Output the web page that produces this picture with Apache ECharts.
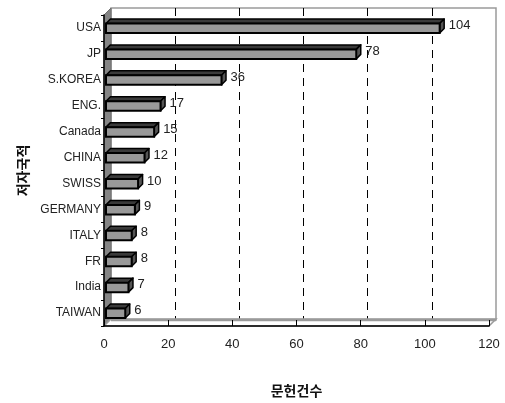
<!DOCTYPE html>
<html>
<head>
<meta charset="utf-8">
<script src="https://cdn.jsdelivr.net/npm/echarts@6/dist/echarts.min.js"></script>
<style>
  html, body { margin: 0; padding: 0; background: #fff; }
  #chart { width: 505px; height: 403px; }
</style>
</head>
<body>
<div id="chart"></div>
<script>
// Publications by author nationality
const categories = ['USA', 'JP', 'S.KOREA', 'ENG.', 'Canada', 'CHINA', 'SWISS', 'GERMANY', 'ITALY', 'FR', 'India', 'TAIWAN'];
const counts = [104, 78, 36, 17, 15, 12, 10, 9, 8, 8, 7, 6];
const axisMin = 0;
const axisMax = 120;
const axisStep = 20;
const xTitle = '문헌건수';
const yTitle = '저자국적';

const LATIN = '"Liberation Sans", Arial, sans-serif';
const KOREAN = '"Noto Sans CJK KR", sans-serif';
const DEPTH = 7;       // wall/floor perspective offset
const BAR_DEPTH = 4.5; // bar top/side offset

const chart = echarts.init(document.getElementById('chart'), null, { renderer: 'canvas' });

// left wall and floor of the 3D frame
function renderFrame(params, api) {
  const cs = params.coordSys;
  const L = cs.x, T = cs.y, R = cs.x + cs.width, B = cs.y + cs.height;
  return {
    type: 'group',
    children: [
      {
        type: 'polygon',
        shape: { points: [[L, T], [L + DEPTH, T - DEPTH], [L + DEPTH, B - DEPTH], [L, B]] },
        style: { fill: '#858585', stroke: '#6f6f6f', lineWidth: 1 }
      },
      {
        type: 'polygon',
        shape: { points: [[L, B], [R, B], [R + DEPTH, B - DEPTH], [L + DEPTH, B - DEPTH]] },
        style: { fill: '#ffffff', stroke: '#9a9a9a', lineWidth: 1.5 }
      },
      {
        type: 'line',
        shape: { x1: L + DEPTH, y1: B - DEPTH + 1, x2: R + DEPTH, y2: B - DEPTH + 1 },
        style: { stroke: '#9a9a9a', lineWidth: 2.5 }
      }
    ]
  };
}

// one 3D bar with its value label
function renderBar(params, api) {
  const v = api.value(0);
  const i = api.value(1);
  const base = api.coord([0, i]);
  const end = api.coord([v, i]);
  const cy = base[1];
  const xL = base[0] + 2;
  const xR = end[0] + 2;
  const yT = cy - 4.5;
  const yB = cy + 5;
  const d = BAR_DEPTH;
  return {
    type: 'group',
    children: [
      {
        type: 'polygon',
        shape: { points: [[xL, yT], [xR, yT], [xR + d, yT - d], [xL + d, yT - d]] },
        style: { fill: '#3a3a3a', stroke: '#000', lineWidth: 1.5, lineJoin: 'round' }
      },
      {
        type: 'polygon',
        shape: { points: [[xR, yT], [xR + d, yT - d], [xR + d, yB - d], [xR, yB]] },
        style: { fill: '#555', stroke: '#000', lineWidth: 1.5, lineJoin: 'round' }
      },
      {
        type: 'rect',
        shape: { x: xL, y: yT, width: xR - xL, height: yB - yT },
        style: { fill: '#999999', stroke: '#000', lineWidth: 2 }
      },
      {
        type: 'text',
        style: {
          text: String(v),
          x: xR + 9,
          y: cy - 2.5,
          align: 'left',
          verticalAlign: 'middle',
          fill: '#222',
          font: '13px ' + LATIN
        }
      }
    ]
  };
}

const option = {
  backgroundColor: '#fff',
  animation: false,
  grid: [
    { left: 104, right: 16, top: 15, bottom: 76 },
    { left: 111, right: 9, top: 8, bottom: 83, show: true, backgroundColor: '#fff', borderColor: '#9a9a9a', borderWidth: 1.5 }
  ],
  xAxis: [
    {
      gridIndex: 0, type: 'value', min: axisMin, max: axisMax, interval: axisStep,
      z: 5,
      axisLine: { show: true, lineStyle: { color: '#000', width: 1.5 } },
      axisTick: { show: true, inside: true, length: 6, lineStyle: { color: '#000', width: 1 } },
      axisLabel: { fontSize: 13, color: '#222', margin: 12, fontFamily: LATIN },
      splitLine: { show: false },
      name: xTitle, nameLocation: 'middle', nameGap: 58,
      nameTextStyle: { fontSize: 14, fontWeight: 'bold', color: '#111', fontFamily: KOREAN }
    },
    {
      gridIndex: 1, type: 'value', min: axisMin, max: axisMax, interval: axisStep,
      axisLine: { show: false }, axisTick: { show: false }, axisLabel: { show: false },
      splitLine: { show: true, showMinLine: false, showMaxLine: false, lineStyle: { color: '#000', width: 1, type: [8, 6] } }
    }
  ],
  yAxis: [
    {
      gridIndex: 0, type: 'category', data: categories, inverse: true,
      z: 5,
      axisLine: { show: true, onZero: false, lineStyle: { color: '#000', width: 1.5 } },
      axisTick: { show: true, length: 3, lineStyle: { color: '#000' } },
      axisLabel: { fontSize: 12, color: '#222', margin: 3, fontFamily: LATIN },
      name: yTitle, nameLocation: 'middle', nameRotate: 90, nameGap: 73,
      nameTextStyle: { fontSize: 14, fontWeight: 'bold', color: '#111', fontFamily: KOREAN }
    },
    { gridIndex: 1, type: 'value', show: false, splitLine: { show: false } }
  ],
  series: [
    {
      type: 'custom', name: 'frame', xAxisIndex: 0, yAxisIndex: 0, z: 1, silent: true,
      data: [[0, 0]], renderItem: renderFrame
    },
    {
      type: 'custom', name: 'counts', xAxisIndex: 0, yAxisIndex: 0, z: 6, silent: true,
      encode: { x: 0, y: 1 },
      data: counts.map((v, i) => [v, i]),
      renderItem: renderBar
    }
  ]
};

chart.setOption(option);
</script>
</body>
</html>
